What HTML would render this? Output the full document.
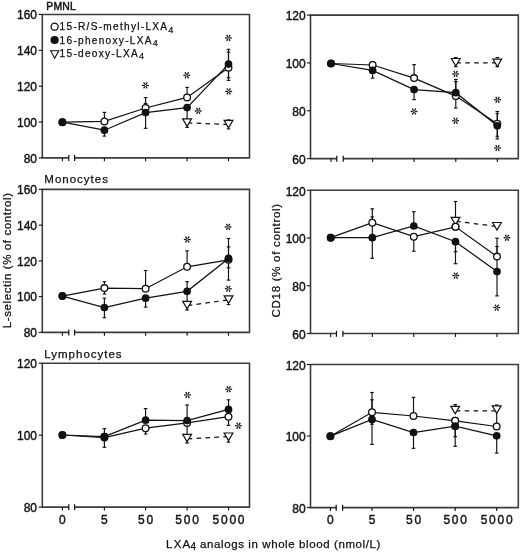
<!DOCTYPE html>
<html><head><meta charset="utf-8"><style>
html,body{margin:0;padding:0;background:#fff;}
svg{display:block;filter:blur(0.35px);}
text{font-family:"Liberation Sans",sans-serif;fill:#111111;stroke:#111111;stroke-width:0.2px;}
.yl{font-size:12px;stroke-width:0.4px;}
.xl{font-size:12px;letter-spacing:1.8px;stroke-width:0.4px;}
.ttl{font-size:11.5px;letter-spacing:1px;stroke-width:0.25px;}
.lg{font-size:10.1px;letter-spacing:1.28px;stroke-width:0.25px;}
.sub{font-size:9px;}
</style></head><body>
<svg width="520" height="552" viewBox="0 0 520 552">
<path d="M42.3,157.9 L42.3,14.5 L249.5,14.5 L249.5,157.9" fill="none" stroke="#3c3c3c" stroke-width="1.6"/>
<path d="M41.699999999999996,157.9 L68.8,157.9 M74.6,157.9 L250.1,157.9" fill="none" stroke="#3c3c3c" stroke-width="1.6"/>
<path d="M68.8,155.1 L68.8,161.1 M74.6,155.1 L74.6,161.1" fill="none" stroke="#111111" stroke-width="1.2"/>
<path d="M62.4,157.9 L62.4,161.3 M104.4,157.9 L104.4,161.3 M145.6,157.9 L145.6,161.3 M187.1,157.9 L187.1,161.3 M228.5,157.9 L228.5,161.3 " fill="none" stroke="#111111" stroke-width="1.1"/>
<path d="M38.699999999999996,14.5 L42.3,14.5" stroke="#111111" stroke-width="1.1"/>
<text x="37.0" y="19.20" text-anchor="end" class="yl">160</text>
<path d="M38.699999999999996,50.35 L42.3,50.35" stroke="#111111" stroke-width="1.1"/>
<text x="37.0" y="55.05" text-anchor="end" class="yl">140</text>
<path d="M38.699999999999996,86.2 L42.3,86.2" stroke="#111111" stroke-width="1.1"/>
<text x="37.0" y="90.90" text-anchor="end" class="yl">120</text>
<path d="M38.699999999999996,122.05000000000001 L42.3,122.05000000000001" stroke="#111111" stroke-width="1.1"/>
<text x="37.0" y="126.75" text-anchor="end" class="yl">100</text>
<path d="M38.699999999999996,157.9 L42.3,157.9" stroke="#111111" stroke-width="1.1"/>
<text x="37.0" y="162.60" text-anchor="end" class="yl">80</text>
<path d="M104.4,121.4 L104.4,112.4" stroke="#111111" stroke-width="1.15"/>
<path d="M102.60000000000001,112.4 L106.2,112.4" stroke="#111111" stroke-width="1.15"/>
<path d="M104.4,130.2 L104.4,136.1" stroke="#111111" stroke-width="1.15"/>
<path d="M102.60000000000001,136.1 L106.2,136.1" stroke="#111111" stroke-width="1.15"/>
<path d="M145.6,108.0 L145.6,97.6" stroke="#111111" stroke-width="1.15"/>
<path d="M143.79999999999998,97.6 L147.4,97.6" stroke="#111111" stroke-width="1.15"/>
<path d="M145.6,112.6 L145.6,103.4" stroke="#111111" stroke-width="1.15"/>
<path d="M143.79999999999998,103.4 L147.4,103.4" stroke="#111111" stroke-width="1.15"/>
<path d="M145.6,112.6 L145.6,128.3" stroke="#111111" stroke-width="1.15"/>
<path d="M143.79999999999998,128.3 L147.4,128.3" stroke="#111111" stroke-width="1.15"/>
<path d="M187.1,97.4 L187.1,87.4" stroke="#111111" stroke-width="1.15"/>
<path d="M185.29999999999998,87.4 L188.9,87.4" stroke="#111111" stroke-width="1.15"/>
<path d="M187.1,107.6 L187.1,119" stroke="#111111" stroke-width="1.15"/>
<path d="M228.5,64.1 L228.5,49.3" stroke="#111111" stroke-width="1.15"/>
<path d="M226.7,49.3 L230.3,49.3" stroke="#111111" stroke-width="1.15"/>
<path d="M228.5,67.7 L228.5,52.1" stroke="#111111" stroke-width="1.15"/>
<path d="M226.7,52.1 L230.3,52.1" stroke="#111111" stroke-width="1.15"/>
<path d="M228.5,67.7 L228.5,77.7" stroke="#111111" stroke-width="1.15"/>
<path d="M226.7,77.7 L230.3,77.7" stroke="#111111" stroke-width="1.15"/>
<path d="M228.5,64.1 L228.5,80.4" stroke="#111111" stroke-width="1.15"/>
<path d="M226.7,80.4 L230.3,80.4" stroke="#111111" stroke-width="1.15"/>
<path d="M187.1,122.2 L187.1,127.4" stroke="#111111" stroke-width="1.15"/>
<path d="M185.29999999999998,127.4 L188.9,127.4" stroke="#111111" stroke-width="1.15"/>
<path d="M228.5,123.2 L228.5,128.9" stroke="#111111" stroke-width="1.15"/>
<path d="M226.7,128.9 L230.3,128.9" stroke="#111111" stroke-width="1.15"/>
<path d="M226.7,119.9 L230.3,119.9" stroke="#111111" stroke-width="1.15"/>
<path d="M62.4,122.2 L104.4,121.4 L145.6,108.0 L187.1,97.4 L228.5,67.7" fill="none" stroke="#111111" stroke-width="1.25"/>
<path d="M62.4,122.2 L104.4,130.2 L145.6,112.6 L187.1,107.6 L228.5,64.1" fill="none" stroke="#111111" stroke-width="1.25"/>
<path d="M187.1,122.8 L228.5,124.6" fill="none" stroke="#111111" stroke-width="1.25" stroke-dasharray="4.6,4.3" stroke-dashoffset="-0.6"/>
<circle cx="62.4" cy="122.2" r="3.35" fill="#fff" stroke="#111111" stroke-width="1.3"/>
<circle cx="62.4" cy="122.2" r="3.85" fill="#111111"/>
<circle cx="104.4" cy="121.4" r="3.35" fill="#fff" stroke="#111111" stroke-width="1.3"/>
<circle cx="104.4" cy="130.2" r="3.85" fill="#111111"/>
<circle cx="145.6" cy="108.0" r="3.35" fill="#fff" stroke="#111111" stroke-width="1.3"/>
<circle cx="145.6" cy="112.6" r="3.85" fill="#111111"/>
<circle cx="187.1" cy="97.4" r="3.35" fill="#fff" stroke="#111111" stroke-width="1.3"/>
<circle cx="187.1" cy="107.6" r="3.85" fill="#111111"/>
<circle cx="228.5" cy="67.7" r="3.35" fill="#fff" stroke="#111111" stroke-width="1.3"/>
<circle cx="228.5" cy="64.1" r="3.85" fill="#111111"/>
<path d="M182.70,118.90 L191.50,118.90 L187.10,126.40 Z" fill="#fff" stroke="#111111" stroke-width="1.2" stroke-linejoin="miter"/>
<path d="M224.10,120.30 L232.90,120.30 L228.50,127.80 Z" fill="#fff" stroke="#111111" stroke-width="1.2" stroke-linejoin="miter"/>
<path d="M145.90,85.70 L148.20,86.15 A0.75,0.75 0 0 0 148.20,84.65 L145.90,85.10 Z M145.39,85.98 L146.15,88.20 A0.75,0.75 0 0 0 147.45,87.45 L145.91,85.68 Z M144.89,85.68 L143.35,87.45 A0.75,0.75 0 0 0 144.65,88.20 L145.41,85.98 Z M144.90,85.10 L142.60,84.65 A0.75,0.75 0 0 0 142.60,86.15 L144.90,85.70 Z M145.41,84.82 L144.65,82.60 A0.75,0.75 0 0 0 143.35,83.35 L144.89,85.12 Z M145.91,85.12 L147.45,83.35 A0.75,0.75 0 0 0 146.15,82.60 L145.39,84.82 Z " fill="#111111"/>
<path d="M187.30,75.50 L189.60,75.95 A0.75,0.75 0 0 0 189.60,74.45 L187.30,74.90 Z M186.79,75.78 L187.55,78.00 A0.75,0.75 0 0 0 188.85,77.25 L187.31,75.48 Z M186.29,75.48 L184.75,77.25 A0.75,0.75 0 0 0 186.05,78.00 L186.81,75.78 Z M186.30,74.90 L184.00,74.45 A0.75,0.75 0 0 0 184.00,75.95 L186.30,75.50 Z M186.81,74.62 L186.05,72.40 A0.75,0.75 0 0 0 184.75,73.15 L186.29,74.92 Z M187.31,74.92 L188.85,73.15 A0.75,0.75 0 0 0 187.55,72.40 L186.79,74.62 Z " fill="#111111"/>
<path d="M198.70,111.20 L201.00,111.65 A0.75,0.75 0 0 0 201.00,110.15 L198.70,110.60 Z M198.19,111.48 L198.95,113.70 A0.75,0.75 0 0 0 200.25,112.95 L198.71,111.18 Z M197.69,111.18 L196.15,112.95 A0.75,0.75 0 0 0 197.45,113.70 L198.21,111.48 Z M197.70,110.60 L195.40,110.15 A0.75,0.75 0 0 0 195.40,111.65 L197.70,111.20 Z M198.21,110.32 L197.45,108.10 A0.75,0.75 0 0 0 196.15,108.85 L197.69,110.62 Z M198.71,110.62 L200.25,108.85 A0.75,0.75 0 0 0 198.95,108.10 L198.19,110.32 Z " fill="#111111"/>
<path d="M228.90,38.20 L231.20,38.65 A0.75,0.75 0 0 0 231.20,37.15 L228.90,37.60 Z M228.39,38.48 L229.15,40.70 A0.75,0.75 0 0 0 230.45,39.95 L228.91,38.18 Z M227.89,38.18 L226.35,39.95 A0.75,0.75 0 0 0 227.65,40.70 L228.41,38.48 Z M227.90,37.60 L225.60,37.15 A0.75,0.75 0 0 0 225.60,38.65 L227.90,38.20 Z M228.41,37.32 L227.65,35.10 A0.75,0.75 0 0 0 226.35,35.85 L227.89,37.62 Z M228.91,37.62 L230.45,35.85 A0.75,0.75 0 0 0 229.15,35.10 L228.39,37.32 Z " fill="#111111"/>
<path d="M229.20,91.70 L231.50,92.15 A0.75,0.75 0 0 0 231.50,90.65 L229.20,91.10 Z M228.69,91.98 L229.45,94.20 A0.75,0.75 0 0 0 230.75,93.45 L229.21,91.68 Z M228.19,91.68 L226.65,93.45 A0.75,0.75 0 0 0 227.95,94.20 L228.71,91.98 Z M228.20,91.10 L225.90,90.65 A0.75,0.75 0 0 0 225.90,92.15 L228.20,91.70 Z M228.71,90.82 L227.95,88.60 A0.75,0.75 0 0 0 226.65,89.35 L228.19,91.12 Z M229.21,91.12 L230.75,89.35 A0.75,0.75 0 0 0 229.45,88.60 L228.69,90.82 Z " fill="#111111"/>
<path d="M310.5,158.6 L310.5,15.1 L518.3,15.1 L518.3,158.6" fill="none" stroke="#3c3c3c" stroke-width="1.6"/>
<path d="M309.9,158.6 L336.8,158.6 M343.2,158.6 L518.9,158.6" fill="none" stroke="#3c3c3c" stroke-width="1.6"/>
<path d="M336.8,155.79999999999998 L336.8,161.79999999999998 M343.2,155.79999999999998 L343.2,161.79999999999998" fill="none" stroke="#111111" stroke-width="1.2"/>
<path d="M331.0,158.6 L331.0,162.0 M372.6,158.6 L372.6,162.0 M414.1,158.6 L414.1,162.0 M455.8,158.6 L455.8,162.0 M497.3,158.6 L497.3,162.0 " fill="none" stroke="#111111" stroke-width="1.1"/>
<path d="M306.9,15.1 L310.5,15.1" stroke="#111111" stroke-width="1.1"/>
<text x="305.7" y="20.30" text-anchor="end" class="yl">120</text>
<path d="M306.9,62.93333333333334 L310.5,62.93333333333334" stroke="#111111" stroke-width="1.1"/>
<text x="305.7" y="68.13" text-anchor="end" class="yl">100</text>
<path d="M306.9,110.76666666666667 L310.5,110.76666666666667" stroke="#111111" stroke-width="1.1"/>
<text x="305.7" y="115.97" text-anchor="end" class="yl">80</text>
<path d="M306.9,158.6 L310.5,158.6" stroke="#111111" stroke-width="1.1"/>
<text x="305.7" y="163.80" text-anchor="end" class="yl">60</text>
<path d="M372.6,65.0 L372.6,61.7" stroke="#111111" stroke-width="1.15"/>
<path d="M370.8,61.7 L374.40000000000003,61.7" stroke="#111111" stroke-width="1.15"/>
<path d="M372.6,70.4 L372.6,78.1" stroke="#111111" stroke-width="1.15"/>
<path d="M370.8,78.1 L374.40000000000003,78.1" stroke="#111111" stroke-width="1.15"/>
<path d="M414.1,78.1 L414.1,64.6" stroke="#111111" stroke-width="1.15"/>
<path d="M412.3,64.6 L415.90000000000003,64.6" stroke="#111111" stroke-width="1.15"/>
<path d="M414.1,89.6 L414.1,99.6" stroke="#111111" stroke-width="1.15"/>
<path d="M412.3,99.6 L415.90000000000003,99.6" stroke="#111111" stroke-width="1.15"/>
<path d="M455.8,92.7 L455.8,79.4" stroke="#111111" stroke-width="1.15"/>
<path d="M454.0,79.4 L457.6,79.4" stroke="#111111" stroke-width="1.15"/>
<path d="M455.8,96.1 L455.8,81.6" stroke="#111111" stroke-width="1.15"/>
<path d="M454.0,81.6 L457.6,81.6" stroke="#111111" stroke-width="1.15"/>
<path d="M455.8,96.1 L455.8,108.0" stroke="#111111" stroke-width="1.15"/>
<path d="M454.0,108.0 L457.6,108.0" stroke="#111111" stroke-width="1.15"/>
<path d="M497.3,123.8 L497.3,111.5" stroke="#111111" stroke-width="1.15"/>
<path d="M495.5,111.5 L499.1,111.5" stroke="#111111" stroke-width="1.15"/>
<path d="M497.3,125.8 L497.3,113.6" stroke="#111111" stroke-width="1.15"/>
<path d="M495.5,113.6 L499.1,113.6" stroke="#111111" stroke-width="1.15"/>
<path d="M497.3,123.8 L497.3,136.3" stroke="#111111" stroke-width="1.15"/>
<path d="M495.5,136.3 L499.1,136.3" stroke="#111111" stroke-width="1.15"/>
<path d="M497.3,125.8 L497.3,138.9" stroke="#111111" stroke-width="1.15"/>
<path d="M495.5,138.9 L499.1,138.9" stroke="#111111" stroke-width="1.15"/>
<path d="M454.0,57.6 L457.6,57.6" stroke="#111111" stroke-width="1.15"/>
<path d="M454.0,66.6 L457.6,66.6" stroke="#111111" stroke-width="1.15"/>
<path d="M495.5,57.6 L499.1,57.6" stroke="#111111" stroke-width="1.15"/>
<path d="M495.5,66.6 L499.1,66.6" stroke="#111111" stroke-width="1.15"/>
<path d="M331.0,63.5 L372.6,65.0 L414.1,78.1 L455.8,96.1 L497.3,123.8" fill="none" stroke="#111111" stroke-width="1.25"/>
<path d="M331.0,63.5 L372.6,70.4 L414.1,89.6 L455.8,92.7 L497.3,125.8" fill="none" stroke="#111111" stroke-width="1.25"/>
<path d="M455.8,62.8 L497.3,62.8" fill="none" stroke="#111111" stroke-width="1.25" stroke-dasharray="4.6,4.3" stroke-dashoffset="-0.6"/>
<circle cx="331.0" cy="63.5" r="3.35" fill="#fff" stroke="#111111" stroke-width="1.3"/>
<circle cx="331.0" cy="63.5" r="3.85" fill="#111111"/>
<circle cx="372.6" cy="65.0" r="3.35" fill="#fff" stroke="#111111" stroke-width="1.3"/>
<circle cx="372.6" cy="70.4" r="3.85" fill="#111111"/>
<circle cx="414.1" cy="78.1" r="3.35" fill="#fff" stroke="#111111" stroke-width="1.3"/>
<circle cx="414.1" cy="89.6" r="3.85" fill="#111111"/>
<circle cx="455.8" cy="96.1" r="3.35" fill="#fff" stroke="#111111" stroke-width="1.3"/>
<circle cx="455.8" cy="92.7" r="3.85" fill="#111111"/>
<circle cx="497.3" cy="123.8" r="3.35" fill="#fff" stroke="#111111" stroke-width="1.3"/>
<circle cx="497.3" cy="125.8" r="3.85" fill="#111111"/>
<path d="M451.40,58.50 L460.20,58.50 L455.80,66.00 Z" fill="#fff" stroke="#111111" stroke-width="1.2" stroke-linejoin="miter"/>
<path d="M492.90,59.10 L501.70,59.10 L497.30,66.60 Z" fill="#fff" stroke="#111111" stroke-width="1.2" stroke-linejoin="miter"/>
<path d="M456.10,74.20 L458.40,74.65 A0.75,0.75 0 0 0 458.40,73.15 L456.10,73.60 Z M455.59,74.48 L456.35,76.70 A0.75,0.75 0 0 0 457.65,75.95 L456.11,74.18 Z M455.09,74.18 L453.55,75.95 A0.75,0.75 0 0 0 454.85,76.70 L455.61,74.48 Z M455.10,73.60 L452.80,73.15 A0.75,0.75 0 0 0 452.80,74.65 L455.10,74.20 Z M455.61,73.32 L454.85,71.10 A0.75,0.75 0 0 0 453.55,71.85 L455.09,73.62 Z M456.11,73.62 L457.65,71.85 A0.75,0.75 0 0 0 456.35,71.10 L455.59,73.32 Z " fill="#111111"/>
<path d="M456.10,121.10 L458.40,121.55 A0.75,0.75 0 0 0 458.40,120.05 L456.10,120.50 Z M455.59,121.38 L456.35,123.60 A0.75,0.75 0 0 0 457.65,122.85 L456.11,121.08 Z M455.09,121.08 L453.55,122.85 A0.75,0.75 0 0 0 454.85,123.60 L455.61,121.38 Z M455.10,120.50 L452.80,120.05 A0.75,0.75 0 0 0 452.80,121.55 L455.10,121.10 Z M455.61,120.22 L454.85,118.00 A0.75,0.75 0 0 0 453.55,118.75 L455.09,120.52 Z M456.11,120.52 L457.65,118.75 A0.75,0.75 0 0 0 456.35,118.00 L455.59,120.22 Z " fill="#111111"/>
<path d="M414.50,111.80 L416.80,112.25 A0.75,0.75 0 0 0 416.80,110.75 L414.50,111.20 Z M413.99,112.08 L414.75,114.30 A0.75,0.75 0 0 0 416.05,113.55 L414.51,111.78 Z M413.49,111.78 L411.95,113.55 A0.75,0.75 0 0 0 413.25,114.30 L414.01,112.08 Z M413.50,111.20 L411.20,110.75 A0.75,0.75 0 0 0 411.20,112.25 L413.50,111.80 Z M414.01,110.92 L413.25,108.70 A0.75,0.75 0 0 0 411.95,109.45 L413.49,111.22 Z M414.51,111.22 L416.05,109.45 A0.75,0.75 0 0 0 414.75,108.70 L413.99,110.92 Z " fill="#111111"/>
<path d="M498.00,100.10 L500.30,100.55 A0.75,0.75 0 0 0 500.30,99.05 L498.00,99.50 Z M497.49,100.38 L498.25,102.60 A0.75,0.75 0 0 0 499.55,101.85 L498.01,100.08 Z M496.99,100.08 L495.45,101.85 A0.75,0.75 0 0 0 496.75,102.60 L497.51,100.38 Z M497.00,99.50 L494.70,99.05 A0.75,0.75 0 0 0 494.70,100.55 L497.00,100.10 Z M497.51,99.22 L496.75,97.00 A0.75,0.75 0 0 0 495.45,97.75 L496.99,99.52 Z M498.01,99.52 L499.55,97.75 A0.75,0.75 0 0 0 498.25,97.00 L497.49,99.22 Z " fill="#111111"/>
<path d="M498.00,148.30 L500.30,148.75 A0.75,0.75 0 0 0 500.30,147.25 L498.00,147.70 Z M497.49,148.58 L498.25,150.80 A0.75,0.75 0 0 0 499.55,150.05 L498.01,148.28 Z M496.99,148.28 L495.45,150.05 A0.75,0.75 0 0 0 496.75,150.80 L497.51,148.58 Z M497.00,147.70 L494.70,147.25 A0.75,0.75 0 0 0 494.70,148.75 L497.00,148.30 Z M497.51,147.42 L496.75,145.20 A0.75,0.75 0 0 0 495.45,145.95 L496.99,147.72 Z M498.01,147.72 L499.55,145.95 A0.75,0.75 0 0 0 498.25,145.20 L497.49,147.42 Z " fill="#111111"/>
<path d="M42.3,332.4 L42.3,189.4 L249.5,189.4 L249.5,332.4" fill="none" stroke="#3c3c3c" stroke-width="1.6"/>
<path d="M41.699999999999996,332.4 L68.8,332.4 M74.6,332.4 L250.1,332.4" fill="none" stroke="#3c3c3c" stroke-width="1.6"/>
<path d="M68.8,329.59999999999997 L68.8,335.59999999999997 M74.6,329.59999999999997 L74.6,335.59999999999997" fill="none" stroke="#111111" stroke-width="1.2"/>
<path d="M62.4,332.4 L62.4,335.79999999999995 M104.4,332.4 L104.4,335.79999999999995 M145.6,332.4 L145.6,335.79999999999995 M187.1,332.4 L187.1,335.79999999999995 M228.5,332.4 L228.5,335.79999999999995 " fill="none" stroke="#111111" stroke-width="1.1"/>
<path d="M38.699999999999996,189.4 L42.3,189.4" stroke="#111111" stroke-width="1.1"/>
<text x="37.0" y="194.10" text-anchor="end" class="yl">160</text>
<path d="M38.699999999999996,225.15 L42.3,225.15" stroke="#111111" stroke-width="1.1"/>
<text x="37.0" y="229.85" text-anchor="end" class="yl">140</text>
<path d="M38.699999999999996,260.9 L42.3,260.9" stroke="#111111" stroke-width="1.1"/>
<text x="37.0" y="265.60" text-anchor="end" class="yl">120</text>
<path d="M38.699999999999996,296.65 L42.3,296.65" stroke="#111111" stroke-width="1.1"/>
<text x="37.0" y="301.35" text-anchor="end" class="yl">100</text>
<path d="M38.699999999999996,332.4 L42.3,332.4" stroke="#111111" stroke-width="1.1"/>
<text x="37.0" y="337.10" text-anchor="end" class="yl">80</text>
<path d="M104.4,288.1 L104.4,281.7" stroke="#111111" stroke-width="1.15"/>
<path d="M102.60000000000001,281.7 L106.2,281.7" stroke="#111111" stroke-width="1.15"/>
<path d="M104.4,288.1 L104.4,294.0" stroke="#111111" stroke-width="1.15"/>
<path d="M102.60000000000001,294.0 L106.2,294.0" stroke="#111111" stroke-width="1.15"/>
<path d="M104.4,307.5 L104.4,298.2" stroke="#111111" stroke-width="1.15"/>
<path d="M102.60000000000001,298.2 L106.2,298.2" stroke="#111111" stroke-width="1.15"/>
<path d="M104.4,307.5 L104.4,317.7" stroke="#111111" stroke-width="1.15"/>
<path d="M102.60000000000001,317.7 L106.2,317.7" stroke="#111111" stroke-width="1.15"/>
<path d="M145.6,288.7 L145.6,270.5" stroke="#111111" stroke-width="1.15"/>
<path d="M143.79999999999998,270.5 L147.4,270.5" stroke="#111111" stroke-width="1.15"/>
<path d="M145.6,298.2 L145.6,307.1" stroke="#111111" stroke-width="1.15"/>
<path d="M143.79999999999998,307.1 L147.4,307.1" stroke="#111111" stroke-width="1.15"/>
<path d="M187.1,266.8 L187.1,250.8" stroke="#111111" stroke-width="1.15"/>
<path d="M185.29999999999998,250.8 L188.9,250.8" stroke="#111111" stroke-width="1.15"/>
<path d="M187.1,291.3 L187.1,281.7" stroke="#111111" stroke-width="1.15"/>
<path d="M185.29999999999998,281.7 L188.9,281.7" stroke="#111111" stroke-width="1.15"/>
<path d="M187.1,291.3 L187.1,301" stroke="#111111" stroke-width="1.15"/>
<path d="M228.5,258.4 L228.5,238.5" stroke="#111111" stroke-width="1.15"/>
<path d="M226.7,238.5 L230.3,238.5" stroke="#111111" stroke-width="1.15"/>
<path d="M228.5,259.8 L228.5,246.9" stroke="#111111" stroke-width="1.15"/>
<path d="M226.7,246.9 L230.3,246.9" stroke="#111111" stroke-width="1.15"/>
<path d="M228.5,258.4 L228.5,267.8" stroke="#111111" stroke-width="1.15"/>
<path d="M226.7,267.8 L230.3,267.8" stroke="#111111" stroke-width="1.15"/>
<path d="M228.5,259.8 L228.5,280.1" stroke="#111111" stroke-width="1.15"/>
<path d="M226.7,280.1 L230.3,280.1" stroke="#111111" stroke-width="1.15"/>
<path d="M187.1,304.6 L187.1,310.0" stroke="#111111" stroke-width="1.15"/>
<path d="M185.29999999999998,310.0 L188.9,310.0" stroke="#111111" stroke-width="1.15"/>
<path d="M228.5,299.2 L228.5,304.6" stroke="#111111" stroke-width="1.15"/>
<path d="M226.7,304.6 L230.3,304.6" stroke="#111111" stroke-width="1.15"/>
<path d="M62.4,296.1 L104.4,288.1 L145.6,288.7 L187.1,266.8 L228.5,259.8" fill="none" stroke="#111111" stroke-width="1.25"/>
<path d="M62.4,296.1 L104.4,307.5 L145.6,298.2 L187.1,291.3 L228.5,258.4" fill="none" stroke="#111111" stroke-width="1.25"/>
<path d="M187.1,305.6 L228.5,299.9" fill="none" stroke="#111111" stroke-width="1.25" stroke-dasharray="4.6,4.3" stroke-dashoffset="-0.6"/>
<circle cx="62.4" cy="296.1" r="3.35" fill="#fff" stroke="#111111" stroke-width="1.3"/>
<circle cx="62.4" cy="296.1" r="3.85" fill="#111111"/>
<circle cx="104.4" cy="288.1" r="3.35" fill="#fff" stroke="#111111" stroke-width="1.3"/>
<circle cx="104.4" cy="307.5" r="3.85" fill="#111111"/>
<circle cx="145.6" cy="288.7" r="3.35" fill="#fff" stroke="#111111" stroke-width="1.3"/>
<circle cx="145.6" cy="298.2" r="3.85" fill="#111111"/>
<circle cx="187.1" cy="266.8" r="3.35" fill="#fff" stroke="#111111" stroke-width="1.3"/>
<circle cx="187.1" cy="291.3" r="3.85" fill="#111111"/>
<circle cx="228.5" cy="259.8" r="3.35" fill="#fff" stroke="#111111" stroke-width="1.3"/>
<circle cx="228.5" cy="258.4" r="3.85" fill="#111111"/>
<path d="M182.70,301.30 L191.50,301.30 L187.10,308.80 Z" fill="#fff" stroke="#111111" stroke-width="1.2" stroke-linejoin="miter"/>
<path d="M224.10,295.90 L232.90,295.90 L228.50,303.40 Z" fill="#fff" stroke="#111111" stroke-width="1.2" stroke-linejoin="miter"/>
<path d="M187.80,239.80 L190.10,240.25 A0.75,0.75 0 0 0 190.10,238.75 L187.80,239.20 Z M187.29,240.08 L188.05,242.30 A0.75,0.75 0 0 0 189.35,241.55 L187.81,239.78 Z M186.79,239.78 L185.25,241.55 A0.75,0.75 0 0 0 186.55,242.30 L187.31,240.08 Z M186.80,239.20 L184.50,238.75 A0.75,0.75 0 0 0 184.50,240.25 L186.80,239.80 Z M187.31,238.92 L186.55,236.70 A0.75,0.75 0 0 0 185.25,237.45 L186.79,239.22 Z M187.81,239.22 L189.35,237.45 A0.75,0.75 0 0 0 188.05,236.70 L187.29,238.92 Z " fill="#111111"/>
<path d="M228.60,227.20 L230.90,227.65 A0.75,0.75 0 0 0 230.90,226.15 L228.60,226.60 Z M228.09,227.48 L228.85,229.70 A0.75,0.75 0 0 0 230.15,228.95 L228.61,227.18 Z M227.59,227.18 L226.05,228.95 A0.75,0.75 0 0 0 227.35,229.70 L228.11,227.48 Z M227.60,226.60 L225.30,226.15 A0.75,0.75 0 0 0 225.30,227.65 L227.60,227.20 Z M228.11,226.32 L227.35,224.10 A0.75,0.75 0 0 0 226.05,224.85 L227.59,226.62 Z M228.61,226.62 L230.15,224.85 A0.75,0.75 0 0 0 228.85,224.10 L228.09,226.32 Z " fill="#111111"/>
<path d="M228.80,289.00 L231.10,289.45 A0.75,0.75 0 0 0 231.10,287.95 L228.80,288.40 Z M228.29,289.28 L229.05,291.50 A0.75,0.75 0 0 0 230.35,290.75 L228.81,288.98 Z M227.79,288.98 L226.25,290.75 A0.75,0.75 0 0 0 227.55,291.50 L228.31,289.28 Z M227.80,288.40 L225.50,287.95 A0.75,0.75 0 0 0 225.50,289.45 L227.80,289.00 Z M228.31,288.12 L227.55,285.90 A0.75,0.75 0 0 0 226.25,286.65 L227.79,288.42 Z M228.81,288.42 L230.35,286.65 A0.75,0.75 0 0 0 229.05,285.90 L228.29,288.12 Z " fill="#111111"/>
<path d="M310.5,333.5 L310.5,190.3 L518.3,190.3 L518.3,333.5" fill="none" stroke="#3c3c3c" stroke-width="1.6"/>
<path d="M309.9,333.5 L336.5,333.5 M342.9,333.5 L518.9,333.5" fill="none" stroke="#3c3c3c" stroke-width="1.6"/>
<path d="M336.5,330.7 L336.5,336.7 M342.9,330.7 L342.9,336.7" fill="none" stroke="#111111" stroke-width="1.2"/>
<path d="M330.7,333.5 L330.7,336.9 M372.3,333.5 L372.3,336.9 M413.8,333.5 L413.8,336.9 M455.5,333.5 L455.5,336.9 M497.0,333.5 L497.0,336.9 " fill="none" stroke="#111111" stroke-width="1.1"/>
<path d="M306.9,190.3 L310.5,190.3" stroke="#111111" stroke-width="1.1"/>
<text x="305.7" y="195.50" text-anchor="end" class="yl">120</text>
<path d="M306.9,238.03333333333333 L310.5,238.03333333333333" stroke="#111111" stroke-width="1.1"/>
<text x="305.7" y="243.23" text-anchor="end" class="yl">100</text>
<path d="M306.9,285.76666666666665 L310.5,285.76666666666665" stroke="#111111" stroke-width="1.1"/>
<text x="305.7" y="290.97" text-anchor="end" class="yl">80</text>
<path d="M306.9,333.5 L310.5,333.5" stroke="#111111" stroke-width="1.1"/>
<text x="305.7" y="338.70" text-anchor="end" class="yl">60</text>
<path d="M372.3,222.7 L372.3,208.8" stroke="#111111" stroke-width="1.15"/>
<path d="M370.5,208.8 L374.1,208.8" stroke="#111111" stroke-width="1.15"/>
<path d="M372.3,237.7 L372.3,216.9" stroke="#111111" stroke-width="1.15"/>
<path d="M370.5,216.9 L374.1,216.9" stroke="#111111" stroke-width="1.15"/>
<path d="M372.3,237.7 L372.3,258.3" stroke="#111111" stroke-width="1.15"/>
<path d="M370.5,258.3 L374.1,258.3" stroke="#111111" stroke-width="1.15"/>
<path d="M413.8,226.0 L413.8,211.7" stroke="#111111" stroke-width="1.15"/>
<path d="M412.0,211.7 L415.6,211.7" stroke="#111111" stroke-width="1.15"/>
<path d="M413.8,236.7 L413.8,251.2" stroke="#111111" stroke-width="1.15"/>
<path d="M412.0,251.2 L415.6,251.2" stroke="#111111" stroke-width="1.15"/>
<path d="M455.5,226.8 L455.5,201.5" stroke="#111111" stroke-width="1.15"/>
<path d="M453.7,201.5 L457.3,201.5" stroke="#111111" stroke-width="1.15"/>
<path d="M455.5,241.7 L455.5,251.7" stroke="#111111" stroke-width="1.15"/>
<path d="M453.7,251.7 L457.3,251.7" stroke="#111111" stroke-width="1.15"/>
<path d="M455.5,241.7 L455.5,263.7" stroke="#111111" stroke-width="1.15"/>
<path d="M453.7,263.7 L457.3,263.7" stroke="#111111" stroke-width="1.15"/>
<path d="M497.0,256.6 L497.0,238.2" stroke="#111111" stroke-width="1.15"/>
<path d="M495.2,238.2 L498.8,238.2" stroke="#111111" stroke-width="1.15"/>
<path d="M497.0,271.6 L497.0,246.5" stroke="#111111" stroke-width="1.15"/>
<path d="M495.2,246.5 L498.8,246.5" stroke="#111111" stroke-width="1.15"/>
<path d="M497.0,271.6 L497.0,295.9" stroke="#111111" stroke-width="1.15"/>
<path d="M495.2,295.9 L498.8,295.9" stroke="#111111" stroke-width="1.15"/>
<path d="M330.7,237.7 L372.3,222.7 L413.8,236.7 L455.5,226.8 L497.0,256.6" fill="none" stroke="#111111" stroke-width="1.25"/>
<path d="M330.7,237.7 L372.3,237.7 L413.8,226.0 L455.5,241.7 L497.0,271.6" fill="none" stroke="#111111" stroke-width="1.25"/>
<path d="M455.5,221.2 L497.0,226.5" fill="none" stroke="#111111" stroke-width="1.25" stroke-dasharray="4.6,4.3" stroke-dashoffset="-0.6"/>
<circle cx="330.7" cy="237.7" r="3.35" fill="#fff" stroke="#111111" stroke-width="1.3"/>
<circle cx="330.7" cy="237.7" r="3.85" fill="#111111"/>
<circle cx="372.3" cy="222.7" r="3.35" fill="#fff" stroke="#111111" stroke-width="1.3"/>
<circle cx="372.3" cy="237.7" r="3.85" fill="#111111"/>
<circle cx="413.8" cy="236.7" r="3.35" fill="#fff" stroke="#111111" stroke-width="1.3"/>
<circle cx="413.8" cy="226.0" r="3.85" fill="#111111"/>
<circle cx="455.5" cy="226.8" r="3.35" fill="#fff" stroke="#111111" stroke-width="1.3"/>
<circle cx="455.5" cy="241.7" r="3.85" fill="#111111"/>
<circle cx="497.0" cy="256.6" r="3.35" fill="#fff" stroke="#111111" stroke-width="1.3"/>
<circle cx="497.0" cy="271.6" r="3.85" fill="#111111"/>
<path d="M451.10,217.30 L459.90,217.30 L455.50,224.80 Z" fill="#fff" stroke="#111111" stroke-width="1.2" stroke-linejoin="miter"/>
<path d="M492.60,222.50 L501.40,222.50 L497.00,230.00 Z" fill="#fff" stroke="#111111" stroke-width="1.2" stroke-linejoin="miter"/>
<circle cx="455.5" cy="226.8" r="3.35" fill="#fff" stroke="#111111" stroke-width="1.3"/>
<path d="M456.30,275.90 L458.60,276.35 A0.75,0.75 0 0 0 458.60,274.85 L456.30,275.30 Z M455.79,276.18 L456.55,278.40 A0.75,0.75 0 0 0 457.85,277.65 L456.31,275.88 Z M455.29,275.88 L453.75,277.65 A0.75,0.75 0 0 0 455.05,278.40 L455.81,276.18 Z M455.30,275.30 L453.00,274.85 A0.75,0.75 0 0 0 453.00,276.35 L455.30,275.90 Z M455.81,275.02 L455.05,272.80 A0.75,0.75 0 0 0 453.75,273.55 L455.29,275.32 Z M456.31,275.32 L457.85,273.55 A0.75,0.75 0 0 0 456.55,272.80 L455.79,275.02 Z " fill="#111111"/>
<path d="M507.50,238.10 L509.80,238.55 A0.75,0.75 0 0 0 509.80,237.05 L507.50,237.50 Z M506.99,238.38 L507.75,240.60 A0.75,0.75 0 0 0 509.05,239.85 L507.51,238.08 Z M506.49,238.08 L504.95,239.85 A0.75,0.75 0 0 0 506.25,240.60 L507.01,238.38 Z M506.50,237.50 L504.20,237.05 A0.75,0.75 0 0 0 504.20,238.55 L506.50,238.10 Z M507.01,237.22 L506.25,235.00 A0.75,0.75 0 0 0 504.95,235.75 L506.49,237.52 Z M507.51,237.52 L509.05,235.75 A0.75,0.75 0 0 0 507.75,235.00 L506.99,237.22 Z " fill="#111111"/>
<path d="M497.30,307.90 L499.60,308.35 A0.75,0.75 0 0 0 499.60,306.85 L497.30,307.30 Z M496.79,308.18 L497.55,310.40 A0.75,0.75 0 0 0 498.85,309.65 L497.31,307.88 Z M496.29,307.88 L494.75,309.65 A0.75,0.75 0 0 0 496.05,310.40 L496.81,308.18 Z M496.30,307.30 L494.00,306.85 A0.75,0.75 0 0 0 494.00,308.35 L496.30,307.90 Z M496.81,307.02 L496.05,304.80 A0.75,0.75 0 0 0 494.75,305.55 L496.29,307.32 Z M497.31,307.32 L498.85,305.55 A0.75,0.75 0 0 0 497.55,304.80 L496.79,307.02 Z " fill="#111111"/>
<path d="M42.3,507.1 L42.3,363.2 L249.5,363.2 L249.5,507.1" fill="none" stroke="#3c3c3c" stroke-width="1.6"/>
<path d="M41.699999999999996,507.1 L68.8,507.1 M74.6,507.1 L250.1,507.1" fill="none" stroke="#3c3c3c" stroke-width="1.6"/>
<path d="M68.8,504.3 L68.8,510.3 M74.6,504.3 L74.6,510.3" fill="none" stroke="#111111" stroke-width="1.2"/>
<path d="M62.4,507.1 L62.4,510.5 M104.4,507.1 L104.4,510.5 M145.6,507.1 L145.6,510.5 M187.1,507.1 L187.1,510.5 M228.5,507.1 L228.5,510.5 " fill="none" stroke="#111111" stroke-width="1.1"/>
<path d="M38.699999999999996,363.2 L42.3,363.2" stroke="#111111" stroke-width="1.1"/>
<text x="37.0" y="367.90" text-anchor="end" class="yl">120</text>
<path d="M38.699999999999996,435.15 L42.3,435.15" stroke="#111111" stroke-width="1.1"/>
<text x="37.0" y="439.85" text-anchor="end" class="yl">100</text>
<path d="M38.699999999999996,507.1 L42.3,507.1" stroke="#111111" stroke-width="1.1"/>
<text x="37.0" y="511.80" text-anchor="end" class="yl">80</text>
<path d="M104.4,436.7 L104.4,428.7" stroke="#111111" stroke-width="1.15"/>
<path d="M102.60000000000001,428.7 L106.2,428.7" stroke="#111111" stroke-width="1.15"/>
<path d="M104.4,437.6 L104.4,447.3" stroke="#111111" stroke-width="1.15"/>
<path d="M102.60000000000001,447.3 L106.2,447.3" stroke="#111111" stroke-width="1.15"/>
<path d="M145.6,420.2 L145.6,408.6" stroke="#111111" stroke-width="1.15"/>
<path d="M143.79999999999998,408.6 L147.4,408.6" stroke="#111111" stroke-width="1.15"/>
<path d="M145.6,428.2 L145.6,434.0" stroke="#111111" stroke-width="1.15"/>
<path d="M143.79999999999998,434.0 L147.4,434.0" stroke="#111111" stroke-width="1.15"/>
<path d="M187.1,420.6 L187.1,405.0" stroke="#111111" stroke-width="1.15"/>
<path d="M185.29999999999998,405.0 L188.9,405.0" stroke="#111111" stroke-width="1.15"/>
<path d="M187.1,422.9 L187.1,434" stroke="#111111" stroke-width="1.15"/>
<path d="M228.5,409.4 L228.5,399.8" stroke="#111111" stroke-width="1.15"/>
<path d="M226.7,399.8 L230.3,399.8" stroke="#111111" stroke-width="1.15"/>
<path d="M228.5,416.7 L228.5,425.4" stroke="#111111" stroke-width="1.15"/>
<path d="M226.7,425.4 L230.3,425.4" stroke="#111111" stroke-width="1.15"/>
<path d="M187.1,437.7 L187.1,443.0" stroke="#111111" stroke-width="1.15"/>
<path d="M185.29999999999998,443.0 L188.9,443.0" stroke="#111111" stroke-width="1.15"/>
<path d="M228.5,436.3 L228.5,442.1" stroke="#111111" stroke-width="1.15"/>
<path d="M226.7,442.1 L230.3,442.1" stroke="#111111" stroke-width="1.15"/>
<path d="M62.4,435.0 L104.4,437.6 L145.6,428.2 L187.1,422.9 L228.5,416.7" fill="none" stroke="#111111" stroke-width="1.25"/>
<path d="M62.4,435.0 L104.4,436.7 L145.6,420.2 L187.1,420.6 L228.5,409.4" fill="none" stroke="#111111" stroke-width="1.25"/>
<path d="M187.1,439.0 L228.5,436.6" fill="none" stroke="#111111" stroke-width="1.25" stroke-dasharray="4.6,4.3" stroke-dashoffset="-0.6"/>
<circle cx="62.4" cy="435.0" r="3.35" fill="#fff" stroke="#111111" stroke-width="1.3"/>
<circle cx="62.4" cy="435.0" r="3.85" fill="#111111"/>
<circle cx="104.4" cy="437.6" r="3.35" fill="#fff" stroke="#111111" stroke-width="1.3"/>
<circle cx="104.4" cy="436.7" r="3.85" fill="#111111"/>
<circle cx="145.6" cy="428.2" r="3.35" fill="#fff" stroke="#111111" stroke-width="1.3"/>
<circle cx="145.6" cy="420.2" r="3.85" fill="#111111"/>
<circle cx="187.1" cy="422.9" r="3.35" fill="#fff" stroke="#111111" stroke-width="1.3"/>
<circle cx="187.1" cy="420.6" r="3.85" fill="#111111"/>
<circle cx="228.5" cy="416.7" r="3.35" fill="#fff" stroke="#111111" stroke-width="1.3"/>
<circle cx="228.5" cy="409.4" r="3.85" fill="#111111"/>
<circle cx="104.4" cy="436.7" r="3.85" fill="#111111"/>
<path d="M182.70,434.40 L191.50,434.40 L187.10,441.90 Z" fill="#fff" stroke="#111111" stroke-width="1.2" stroke-linejoin="miter"/>
<path d="M224.10,433.00 L232.90,433.00 L228.50,440.50 Z" fill="#fff" stroke="#111111" stroke-width="1.2" stroke-linejoin="miter"/>
<path d="M188.00,395.30 L190.30,395.75 A0.75,0.75 0 0 0 190.30,394.25 L188.00,394.70 Z M187.49,395.58 L188.25,397.80 A0.75,0.75 0 0 0 189.55,397.05 L188.01,395.28 Z M186.99,395.28 L185.45,397.05 A0.75,0.75 0 0 0 186.75,397.80 L187.51,395.58 Z M187.00,394.70 L184.70,394.25 A0.75,0.75 0 0 0 184.70,395.75 L187.00,395.30 Z M187.51,394.42 L186.75,392.20 A0.75,0.75 0 0 0 185.45,392.95 L186.99,394.72 Z M188.01,394.72 L189.55,392.95 A0.75,0.75 0 0 0 188.25,392.20 L187.49,394.42 Z " fill="#111111"/>
<path d="M229.20,389.50 L231.50,389.95 A0.75,0.75 0 0 0 231.50,388.45 L229.20,388.90 Z M228.69,389.78 L229.45,392.00 A0.75,0.75 0 0 0 230.75,391.25 L229.21,389.48 Z M228.19,389.48 L226.65,391.25 A0.75,0.75 0 0 0 227.95,392.00 L228.71,389.78 Z M228.20,388.90 L225.90,388.45 A0.75,0.75 0 0 0 225.90,389.95 L228.20,389.50 Z M228.71,388.62 L227.95,386.40 A0.75,0.75 0 0 0 226.65,387.15 L228.19,388.92 Z M229.21,388.92 L230.75,387.15 A0.75,0.75 0 0 0 229.45,386.40 L228.69,388.62 Z " fill="#111111"/>
<path d="M239.00,426.10 L241.30,426.55 A0.75,0.75 0 0 0 241.30,425.05 L239.00,425.50 Z M238.49,426.38 L239.25,428.60 A0.75,0.75 0 0 0 240.55,427.85 L239.01,426.08 Z M237.99,426.08 L236.45,427.85 A0.75,0.75 0 0 0 237.75,428.60 L238.51,426.38 Z M238.00,425.50 L235.70,425.05 A0.75,0.75 0 0 0 235.70,426.55 L238.00,426.10 Z M238.51,425.22 L237.75,423.00 A0.75,0.75 0 0 0 236.45,423.75 L237.99,425.52 Z M239.01,425.52 L240.55,423.75 A0.75,0.75 0 0 0 239.25,423.00 L238.49,425.22 Z " fill="#111111"/>
<path d="M310.5,507.6 L310.5,364.5 L518.3,364.5 L518.3,507.6" fill="none" stroke="#3c3c3c" stroke-width="1.6"/>
<path d="M309.9,507.6 L336.2,507.6 M342.59999999999997,507.6 L518.9,507.6" fill="none" stroke="#3c3c3c" stroke-width="1.6"/>
<path d="M336.2,504.8 L336.2,510.8 M342.59999999999997,504.8 L342.59999999999997,510.8" fill="none" stroke="#111111" stroke-width="1.2"/>
<path d="M330.4,507.6 L330.4,511.0 M372.0,507.6 L372.0,511.0 M413.5,507.6 L413.5,511.0 M455.2,507.6 L455.2,511.0 M496.7,507.6 L496.7,511.0 " fill="none" stroke="#111111" stroke-width="1.1"/>
<path d="M306.9,364.5 L310.5,364.5" stroke="#111111" stroke-width="1.1"/>
<text x="305.7" y="369.70" text-anchor="end" class="yl">120</text>
<path d="M306.9,436.05 L310.5,436.05" stroke="#111111" stroke-width="1.1"/>
<text x="305.7" y="441.25" text-anchor="end" class="yl">100</text>
<path d="M306.9,507.6 L310.5,507.6" stroke="#111111" stroke-width="1.1"/>
<text x="305.7" y="512.80" text-anchor="end" class="yl">80</text>
<path d="M372.0,412.3 L372.0,392.5" stroke="#111111" stroke-width="1.15"/>
<path d="M370.2,392.5 L373.8,392.5" stroke="#111111" stroke-width="1.15"/>
<path d="M372.0,419.4 L372.0,399.8" stroke="#111111" stroke-width="1.15"/>
<path d="M370.2,399.8 L373.8,399.8" stroke="#111111" stroke-width="1.15"/>
<path d="M372.0,412.3 L372.0,424.2" stroke="#111111" stroke-width="1.15"/>
<path d="M370.2,424.2 L373.8,424.2" stroke="#111111" stroke-width="1.15"/>
<path d="M372.0,419.4 L372.0,444.4" stroke="#111111" stroke-width="1.15"/>
<path d="M370.2,444.4 L373.8,444.4" stroke="#111111" stroke-width="1.15"/>
<path d="M413.5,416.0 L413.5,397.3" stroke="#111111" stroke-width="1.15"/>
<path d="M411.7,397.3 L415.3,397.3" stroke="#111111" stroke-width="1.15"/>
<path d="M413.5,432.5 L413.5,448.3" stroke="#111111" stroke-width="1.15"/>
<path d="M411.7,448.3 L415.3,448.3" stroke="#111111" stroke-width="1.15"/>
<path d="M455.2,426.2 L455.2,436.7" stroke="#111111" stroke-width="1.15"/>
<path d="M453.4,436.7 L457.0,436.7" stroke="#111111" stroke-width="1.15"/>
<path d="M455.2,426.2 L455.2,446.3" stroke="#111111" stroke-width="1.15"/>
<path d="M453.4,446.3 L457.0,446.3" stroke="#111111" stroke-width="1.15"/>
<path d="M455.2,409.2 L455.2,404.6" stroke="#111111" stroke-width="1.15"/>
<path d="M453.4,404.6 L457.0,404.6" stroke="#111111" stroke-width="1.15"/>
<path d="M496.7,435.8 L496.7,453.1" stroke="#111111" stroke-width="1.15"/>
<path d="M494.9,453.1 L498.5,453.1" stroke="#111111" stroke-width="1.15"/>
<path d="M496.7,409 L496.7,426" stroke="#111111" stroke-width="1.15"/>
<path d="M494.9,405.0 L498.5,405.0" stroke="#111111" stroke-width="1.15"/>
<path d="M330.4,436.2 L372.0,412.3 L413.5,416.0 L455.2,420.8 L496.7,426.5" fill="none" stroke="#111111" stroke-width="1.25"/>
<path d="M330.4,436.2 L372.0,419.4 L413.5,432.5 L455.2,426.2 L496.7,435.8" fill="none" stroke="#111111" stroke-width="1.25"/>
<path d="M455.2,410.8 L496.7,410.8" fill="none" stroke="#111111" stroke-width="1.25" stroke-dasharray="4.6,4.3" stroke-dashoffset="-0.6"/>
<circle cx="330.4" cy="436.2" r="3.35" fill="#fff" stroke="#111111" stroke-width="1.3"/>
<circle cx="330.4" cy="436.2" r="3.85" fill="#111111"/>
<circle cx="372.0" cy="412.3" r="3.35" fill="#fff" stroke="#111111" stroke-width="1.3"/>
<circle cx="372.0" cy="419.4" r="3.85" fill="#111111"/>
<circle cx="413.5" cy="416.0" r="3.35" fill="#fff" stroke="#111111" stroke-width="1.3"/>
<circle cx="413.5" cy="432.5" r="3.85" fill="#111111"/>
<circle cx="455.2" cy="420.8" r="3.35" fill="#fff" stroke="#111111" stroke-width="1.3"/>
<circle cx="455.2" cy="426.2" r="3.85" fill="#111111"/>
<circle cx="496.7" cy="426.5" r="3.35" fill="#fff" stroke="#111111" stroke-width="1.3"/>
<circle cx="496.7" cy="435.8" r="3.85" fill="#111111"/>
<path d="M450.80,406.30 L459.60,406.30 L455.20,413.80 Z" fill="#fff" stroke="#111111" stroke-width="1.2" stroke-linejoin="miter"/>
<path d="M492.30,405.90 L501.10,405.90 L496.70,413.40 Z" fill="#fff" stroke="#111111" stroke-width="1.2" stroke-linejoin="miter"/>
<circle cx="455.2" cy="420.8" r="3.35" fill="#fff" stroke="#111111" stroke-width="1.3"/>
<circle cx="455.2" cy="426.2" r="3.85" fill="#111111"/>
<text x="46.3" y="9.9" class="ttl" style="letter-spacing:0.2px;font-size:10.4px;stroke-width:0.45px">PMNL</text>
<text x="44.3" y="183.4" class="ttl">Monocytes</text>
<text x="44.3" y="357.8" class="ttl">Lymphocytes</text>
<circle cx="54.6" cy="26.7" r="3.5" fill="#fff" stroke="#111111" stroke-width="1.3"/>
<circle cx="54.6" cy="40.0" r="4.1" fill="#111111"/>
<path d="M50.6,50.8 L58.8,50.8 L54.7,58.2 Z" fill="#fff" stroke="#111111" stroke-width="1.1"/>
<text x="59.6" y="30.2" class="lg">15-R/S-methyl-LXA<tspan class="sub" dy="2.3">4</tspan></text>
<text x="59.6" y="43.5" class="lg">16-phenoxy-LXA<tspan class="sub" dy="2.3">4</tspan></text>
<text x="59.6" y="57.0" class="lg">15-deoxy-LXA<tspan class="sub" dy="2.3">4</tspan></text>
<text x="63.30" y="524.3" text-anchor="middle" class="xl">0</text>
<text x="105.30" y="524.3" text-anchor="middle" class="xl">5</text>
<text x="146.50" y="524.3" text-anchor="middle" class="xl">50</text>
<text x="188.00" y="524.3" text-anchor="middle" class="xl">500</text>
<text x="229.40" y="524.3" text-anchor="middle" class="xl">5000</text>
<text x="331.30" y="524.3" text-anchor="middle" class="xl">0</text>
<text x="372.90" y="524.3" text-anchor="middle" class="xl">5</text>
<text x="414.40" y="524.3" text-anchor="middle" class="xl">50</text>
<text x="456.10" y="524.3" text-anchor="middle" class="xl">500</text>
<text x="497.60" y="524.3" text-anchor="middle" class="xl">5000</text>
<text x="166.0" y="547.6" class="ttl" style="letter-spacing:1.25px">LXA<tspan style="font-size:10px;letter-spacing:0" dx="-1.1" dy="2.6">4</tspan></text>
<text x="200.0" y="547.6" class="ttl" style="letter-spacing:0.6px">analogs in whole blood (nmol/L)</text>
<text transform="translate(11.2,328.2) rotate(-90)" x="0" y="0" class="ttl" style="letter-spacing:0.6px">L-selectin (% of control)</text>
<text transform="translate(280.2,317.4) rotate(-90)" x="0" y="0" class="ttl" style="letter-spacing:0.7px">CD18 (% of control)</text>
</svg>
</body></html>
